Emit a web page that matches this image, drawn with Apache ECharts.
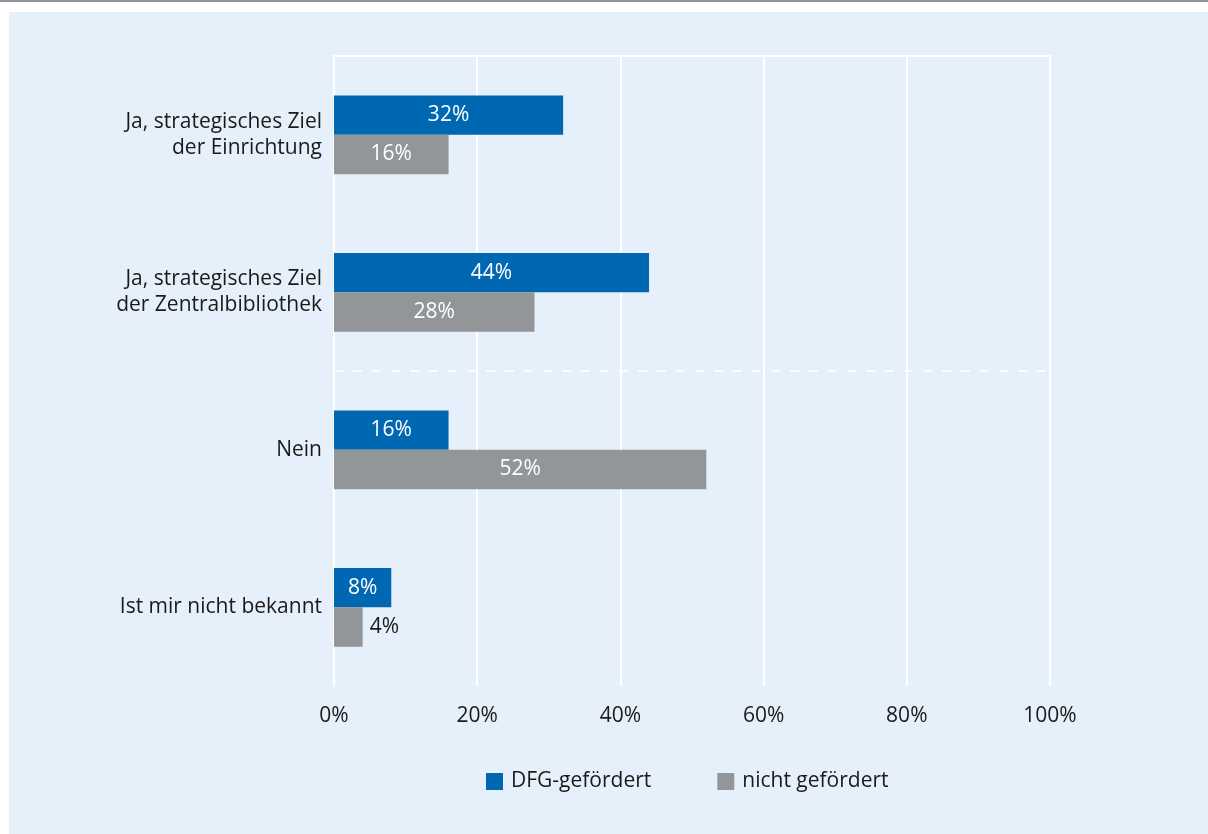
<!DOCTYPE html>
<html>
<head>
<meta charset="utf-8">
<script src="https://cdn.jsdelivr.net/npm/echarts@6/dist/echarts.min.js"></script>
<style>
  html, body { margin: 0; padding: 0; background: #ffffff; }
  #topline { position: absolute; left: 0; top: 0; width: 1208px; height: 2px; background: #8f9598; }
  #panel { position: absolute; left: 9px; top: 12px; width: 1199px; height: 822px; background: #e6f0fa; }
  #chart { position: absolute; left: 0; top: 0; width: 1208px; height: 834px; }
</style>
</head>
<body>
<div id="topline"></div>
<div id="panel"></div>
<div id="chart"></div>
<script>
// Survey answers (rows, top to bottom)
const categories = [
  'Ja, strategisches Ziel\nder Einrichtung',
  'Ja, strategisches Ziel\nder Zentralbibliothek',
  'Nein',
  'Ist mir nicht bekannt'
];
const seriesNames = ['DFG-gefördert', 'nicht gefördert'];
const dfgValues = [32, 44, 16, 8];
const nichtValues = [16, 28, 52, 4];
const xTicks = [0, 20, 40, 60, 80, 100];
// Dashed separator between the "Ja" answers and the rest (row boundary index)
const separatorAt = [2];

const FONT = '"Open Sans", sans-serif';
const FS = 21;
const BLUE = '#0068b3';
const GRAY = '#929699';

// Labels sit inside the bar unless the bar is too short for them
function barData(values) {
  return values.map(v => ({
    value: v,
    label: v < 6
      ? { position: 'right', color: '#1a1a1a', distance: 7 }
      : { position: 'inside', color: '#ffffff' }
  }));
}

const chart = echarts.init(document.getElementById('chart'), null, { renderer: 'canvas' });
chart.setOption({
  animation: false,
  backgroundColor: 'transparent',
  textStyle: { fontFamily: FONT },
  grid: { left: 334, right: 158, top: 56, bottom: 148, containLabel: false },
  legend: {
    data: seriesNames,
    bottom: 37,
    left: 481,
    itemWidth: 17,
    itemHeight: 17,
    itemGap: 66,
    icon: 'rect',
    textStyle: { fontFamily: FONT, fontSize: FS, color: '#1a1a1a', padding: [0, 0, 0, 3] }
  },
  xAxis: [{
    type: 'value',
    min: 0, max: 100, interval: 20,
    axisLine: { show: true, lineStyle: { color: '#ffffff', width: 2 } },
    axisTick: { show: false },
    axisLabel: {
      fontFamily: FONT, fontSize: FS, color: '#1a1a1a', margin: 20,
      formatter: v => xTicks.includes(v) ? v + '%' : ''
    },
    splitLine: { show: true, lineStyle: { color: '#ffffff', width: 2 } }
  }, {
    type: 'value',
    position: 'top',
    min: 0, max: 100,
    axisLine: { show: true, lineStyle: { color: '#ffffff', width: 2 } },
    axisTick: { show: false },
    axisLabel: { show: false },
    splitLine: { show: false }
  }],
  yAxis: [{
    type: 'category',
    data: categories,
    inverse: true,
    axisLine: { show: true, lineStyle: { color: '#ffffff', width: 2 } },
    axisTick: { show: false },
    axisLabel: {
      fontFamily: FONT, fontSize: FS, color: '#1a1a1a', margin: 12,
      lineHeight: 26, align: 'right'
    },
    splitLine: { show: false }
  }, {
    // row-boundary scale used only for the separator line
    type: 'value',
    min: 0, max: categories.length,
    inverse: true,
    show: false
  }],
  series: [{
    name: seriesNames[0],
    type: 'bar',
    data: barData(dfgValues),
    itemStyle: { color: BLUE },
    barGap: '0%',
    barCategoryGap: '50%',
    label: { show: true, fontFamily: FONT, fontSize: FS, formatter: '{c}%' }
  }, {
    name: seriesNames[1],
    type: 'bar',
    data: barData(nichtValues),
    itemStyle: { color: GRAY },
    barGap: '0%',
    barCategoryGap: '50%',
    label: { show: true, fontFamily: FONT, fontSize: FS, formatter: '{c}%' }
  }, {
    type: 'line',
    yAxisIndex: 1,
    data: [],
    silent: true,
    markLine: {
      symbol: 'none',
      silent: true,
      label: { show: false },
      lineStyle: { color: '#ffffff', width: 1.5, type: [9, 10], opacity: 1 },
      data: separatorAt.map(b => ({ yAxis: b }))
    }
  }]
});
</script>
</body>
</html>
